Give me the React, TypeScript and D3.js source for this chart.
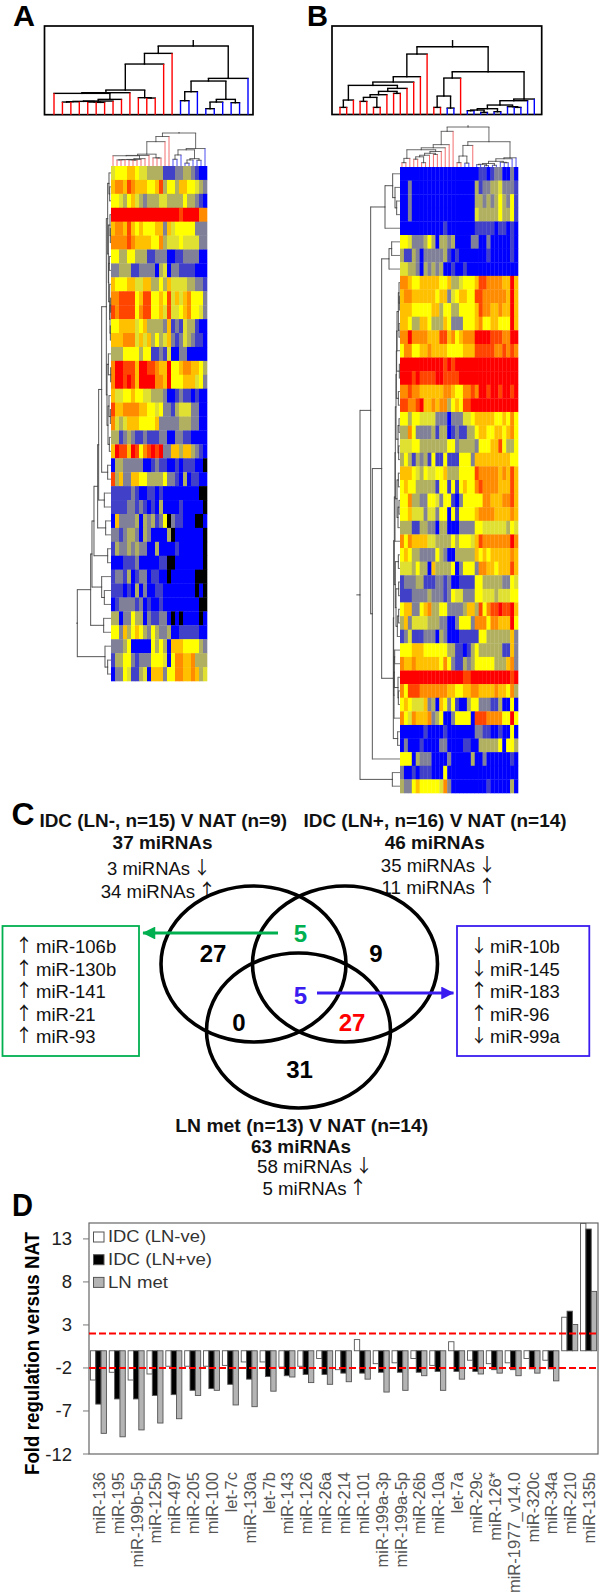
import React from "react";
import * as d3 from "d3";

const FONT = '"Liberation Sans", Arial, sans-serif';

// Heat map levels: 0 blue ... 5 yellow ... 9 red, k = missing (black)
const levelColors = ["#0000ff", "#4040c8", "#808098", "#b0b060", "#e0e030", "#ffff00", "#ffc000", "#ff8c00", "#ff4400", "#ff0000"];

const heatA = [
  "4555 6654 4333 3111 2233 2100",
  "6776 8766 6556 8355 3665 5432",
  "5543 5643 2333 4433 3353 3210",
  "9999 9999 9999 9999 9899 9977",
  "6776 8656 5556 6264 5555 5222",
  "7777 8766 6655 7344 4544 4422",
  "5533 5533 3112 2200 1122 2200",
  "2233 3112 2220 3402 2111 1000",
  "6555 6644 6633 5364 4443 3221",
  "7788 8856 8855 6584 6467 5552",
  "8788 8857 8855 6484 4567 5542",
  "5566 6645 6333 3261 2143 3100",
  "6667 7746 4635 3462 1243 2110",
  "3335 5553 5511 2140 0220 0000",
  "7998 8869 9887 6695 5677 6653",
  "7998 9869 9997 7695 5566 6452",
  "6445 5655 4433 3200 1211 0100",
  "8667 7776 6554 5221 3444 2200",
  "7434 6665 5556 2222 2333 2200",
  "3312 3211 2111 2200 2211 0000",
  "6988 6985 7898 9226 6366 3210",
  "0332 2222 0012 1100 1011 100k",
  "8362 2665 5333 3522 1030 1100",
  "1111 1210 0110 1000 0000 00kk",
  "1111 2212 1010 3000 0100 000k",
  "0622 2230 3231 25k2 1100 0kk0",
  "2212 3320 3200 003k 0000 000k",
  "1322 3232 2003 0000 1000 000k",
  "0001 1120 0000 11kk 0000 000k",
  "1221 3012 2011 00k0 0000 0kkk",
  "1110 1030 2001 1000 0000 0k0k",
  "0122 2212 0100 1000 0000 00kk",
  "3302 2533 0211 220k 0k00 00k0",
  "5526 3565 3253 2230 0111 1100",
  "2223 5000 0053 5306 6655 5532",
  "1335 5212 2255 5405 7766 7333",
  "0225 4113 4066 6255 7766 7634",
];

const heatB = [
  "00000 00000 00000 00000 11012 20020",
  "00200 00000 00000 00003 12233 42221",
  "00200 00000 00000 00003 32323 53251",
  "00200 00000 00000 00004 33333 53351",
  "00000 00000 01000 00001 11110 11010",
  "55422 23530 33230 00022 00200 00010",
  "31132 02222 23101 00000 00100 00010",
  "44332 03232 30010 01000 00000 00000",
  "77655 66666 55633 45556 88777 76696",
  "67766 66665 66245 66558 87777 77696",
  "66655 55566 35533 55556 87766 76696",
  "66533 66533 36522 25556 75566 55596",
  "77977 77666 88675 67779 99988 87799",
  "57755 66766 66555 56668 88887 78787",
  "99999 99999 98989 99999 99999 99999",
  "99989 88889 98888 99999 99999 99999",
  "77877 66666 67765 57787 99899 89989",
  "88778 96676 77356 58899 99999 99999",
  "55355 44442 22022 24456 66665 56575",
  "33752 22231 33012 11335 66556 65675",
  "44455 33333 33552 33332 55566 85335",
  "35313 23151 15111 55526 66666 66655",
  "66654 35445 56333 55558 77777 67686",
  "56553 33331 55151 56557 87777 66686",
  "55733 22554 25510 25555 57766 67786",
  "55644 42442 55051 55556 77776 66676",
  "33311 33220 33000 22225 54444 44354",
  "75766 66443 33353 55546 87777 77797",
  "56533 22225 32003 33336 56566 66676",
  "44435 33063 33350 25552 77665 66686",
  "12223 31112 21200 11115 53333 32254",
  "11122 22322 21254 42225 54443 44455",
  "56622 56733 55222 23663 85788 98896",
  "36244 44333 22002 55527 77577 66695",
  "12411 12220 32000 11111 55333 33362",
  "55566 65555 55331 10135 33333 31162",
  "76676 66666 57521 13235 55553 33672",
  "99999 99999 99999 98899 99999 99989",
  "75888 77777 77665 56677 66667 66573",
  "56544 46230 65251 00355 22211 30050",
  "75476 66723 50025 55508 88777 75595",
  "00000 01000 01000 00002 21100 10050",
  "02000 10000 22000 01100 33333 50553",
  "55503 22200 00200 00030 02000 00010",
  "20010 11100 05000 00000 00000 00000",
  "32256 55555 47200 00000 00100 00030",
];

// Dendrograms: [merge height, left, right]; a number is a leaf index
const colTreeA = [206,
  [184, [152, [74, [66, [64, 0, [46, [41, [40, [39, [38, 1, 2], 3], [38, 4, [37, 5, 6]]], 7], 8]], 9], [51, 10, [50, 11, 12]]], 13], 14],
  [109, [101, [69, [42, 15, 16], 17], [46, [38, [18, 18, 19], 20], [36, 21, 22]]], 23]];
const colTreeB = [204,
  [182, [114, [98, [88, [44, [22, 0, 1], 2], [79, [70, [60, [52, [40, 3, 4], [22, 5, 6]], 7], [64, 8, 9]], 10]], 11], 12], 13],
  [129, [110, [56, [22, 14, 15], [20, 16, 17]], 18],
    [47, [42, [29, [18, [14, [12, 19, 20], [7, 21, 22]], [9, 23, 24]], [24, 25, [22, 26, 27]]], 28], 29]]];
const rowTreeA = [101,
  [61, [57, [51, [40, [37, [28, [14, [10, [6, 0, [4, 1, 2]], [8, [3, 3, [2, 4, 5]], [7, [5, 6, 7], [4, 8, [3, [1, 9, 10], [2, 11, 12]]]]]],
    [12, [8, 13, [1, 14, 15]], [9, [6, 16, [2, 17, 18]], [5, 19, 20]]]], [10, 21, 22]], [20, 23, 24]], [16, 25, 26]], [10, 27, 28]], [28, 29, [20, 30, 31]]], [22, 32, 33]],
  [18, 34, [10, 35, 36]]];
const rowTreeB = [120,
  [88, [45, [22, 0, [15, 1, [10, 2, 3]]], 4],
    [83, [55, [33, [25, 5, 6], 7],
      [20, [19, [17, [15, [14, [12, [11, [10, [9, [5, [3, 8, [2, 9, 10]], [3, 11, 12]], 13], [2, 14, 15]], [5, 16, 17]], [6, [3, 18, 19], [4, 20, 21]]], [9, [5, 22, 23], [6, [3, 24, 25], 26]]], 27],
        [14, [5, 28, 29], [12, [4, 30, 31], [8, [4, 32, 33], 34]]]],
        [18, [17, [16, 35, 36], [6, 37, [5, 38, 39]]], 40]], [7, 41, 42]]], 43]],
  [23, 44, 45]];

const redLeavesA = d3.range(0, 15);
const redLeavesB = [...d3.range(0, 16), 18];

// Panel D
const categories = ["miR-136", "miR-195", "miR-199b-5p", "miR-125b", "miR-497", "miR-205", "miR-100", "let-7c", "miR-130a", "let-7b", "miR-143", "miR-126", "miR-26a", "miR-214", "miR-101", "miR-199a-3p", "miR-199a-5p", "miR-26b", "miR-10a", "let-7a", "miR-29c", "miR-126*", "miR-1977_v14.0", "miR-320c", "miR-34a", "miR-210", "miR-135b"];
const lnNeg = [-3.4, -2.5, -3.4, -2.7, -1.8, -1.8, -1.8, -1.7, -1.3, -1.3, -1.9, -1.8, -0.9, -2.2, 1.3, -1.5, -1.4, -0.9, -1.7, 1.05, -1.1, -1.5, -1.4, -0.9, -1.1, 3.9, 14.8];
const lnPos = [-6.2, -5.6, -5.6, -5.2, -5.1, -4.6, -4.4, -3.9, -3.3, -3, -2.9, -2.75, -2.75, -2.6, -2.6, -2.5, -2.5, -2.5, -2.4, -2.4, -2.4, -2.2, -2.2, -2.1, -2.1, 4.6, 14.15];
const lnMet = [-9.6, -10, -9.2, -8.4, -7.9, -5.2, -4.6, -6.3, -6.5, -4.7, -3.05, -3.7, -3.9, -3.6, -3.3, -4.8, -4.6, -2.9, -4.6, -3.3, -2.7, -2.6, -2.9, -2.6, -3.5, 3.05, 6.9];
const seriesNames = ["IDC (LN-ve)", "IDC (LN+ve)", "LN met"];
const seriesFills = ["#ffffff", "#000000", "#b4b4b4"];
const yTicks = [13, 8, 3, -2, -7, -12];
const thresholds = [2, -2];

// Panel C
const vennCircles = [[253.5, 964, 92.5, 78], [345, 964, 92.5, 78], [298.5, 1030.5, 92, 77.5]];
const vennCounts: [string, number, number, string][] = [
  ["5", 300.4, 942, "#00b050"], ["27", 213, 962, "#000"], ["9", 376, 962, "#000"], ["5", 300.4, 1004, "#3a1cf0"],
  ["0", 239, 1031, "#000"], ["27", 352, 1031, "#f00"], ["31", 299.6, 1078, "#000"],
];
const greenList = ["↑ miR-106b", "↑ miR-130b", "↑ miR-141", "↑ miR-21", "↑ miR-93"];
const blueList = ["↓ miR-10b", "↓ miR-145", "↑ miR-183", "↑ miR-96", "↓ miR-99a"];
const listBaselines = [953, 975.5, 998, 1020.5, 1043];
// text, left, text width, arrow, arrow centre, baseline
const countLines: [string, number, number, string, number, number][] = [
  ["3 miRNAs", 107, 83, "↓", 202, 875],
  ["34 miRNAs", 100.7, 94.3, "↑", 207, 897.5],
  ["35 miRNAs", 380.8, 94.2, "↓", 487, 872],
  ["11 miRNAs", 381.5, 93.5, "↑", 487, 894],
  ["58 miRNAs", 257, 95, "↓", 364, 1173],
  ["5 miRNAs", 262.5, 84, "↑", 358, 1195],
];

type Tree = any;
function layout(tree: Tree) {
  const root: any = d3.hierarchy(tree, (d: any) => (Array.isArray(d) ? d.slice(1) : null));
  root.eachAfter((n: any) => {
    if (n.children) {
      n.pos = d3.mean(n.children, (c: any) => c.pos);
      n.h = n.data[0];
    } else {
      n.pos = n.data;
      n.h = 0;
    }
  });
  return root;
}

function Dendro({ tree, project, leafColor, stroke, width, stem }: any) {
  const root = layout(tree);
  const links: any[] = [];
  root.each((n: any) => {
    if (!n.children) return;
    const [a0, b0] = project(n.pos, n.h);
    n.children.forEach((c: any) => {
      const [a1, b1] = project(c.pos, c.h);
      const [a2, b2] = project(c.pos, n.h);
      links.push(<path key={links.length} d={`M${a0},${b0}L${a2},${b2}`} fill="none" stroke={stroke} strokeWidth={width} strokeLinecap="square" />);
      links.push(<path key={links.length} d={`M${a2},${b2}L${a1},${b1}`} fill="none" stroke={c.children ? stroke : leafColor(c.pos)} strokeWidth={width} />);
    });
  });
  const [s0, s1] = project(root.pos, root.h);
  const [s2, s3] = project(root.pos, root.h + stem);
  return (
    <g>
      {links}
      <path d={`M${s0},${s1}L${s2},${s3}`} stroke={stroke} strokeWidth={width} fill="none" />
    </g>
  );
}

function Heat({ rows, x0, x1, y0, y1 }: any) {
  const cells: string[][] = rows.map((r: string) => r.replace(/ /g, "").split(""));
  const x = d3.scaleBand<number>().domain(d3.range(cells[0].length)).range([x0, x1]);
  const y = d3.scaleBand<number>().domain(d3.range(cells.length)).range([y0, y1]);
  const color = d3.scaleOrdinal<string, string>().domain(["0", "1", "2", "3", "4", "5", "6", "7", "8", "9", "k"]).range([...levelColors, "#000"]);
  return (
    <g filter="url(#soft)">
      {cells.flatMap((r, j) =>
        r.map((v, i) => <rect key={`${i}-${j}`} x={x(i)} y={y(j)} width={x.bandwidth() + 0.3} height={y.bandwidth() + 0.3} fill={color(v)} />),
      )}
    </g>
  );
}

function T({ x, y, w, size = 17.5, bold, anchor, fill = "#111", children }: any) {
  return (
    <text x={x} y={y} fontSize={size} fontWeight={bold ? 700 : 400} textAnchor={anchor} fill={fill} fontFamily={FONT}
      textLength={w} lengthAdjust={w ? "spacingAndGlyphs" : undefined}>
      {children}
    </text>
  );
}

function Arrow({ x, y, children }: any) {
  return (
    <text x={x} y={y - 1} fontSize={18} textAnchor="middle" fill="#111" fontFamily='"Noto Sans CJK SC", "DejaVu Sans", sans-serif'>{children}</text>
  );
}

export default function App() {
  const topA = d3.scalePoint<number>().domain(d3.range(24)).range([54, 248]);
  const topB = d3.scalePoint<number>().domain(d3.range(30)).range([340, 534.3]);
  const boxH = d3.scaleLinear().domain([0, 300]).range([114.7, 14.7]);
  const redA = (p: number) => (redLeavesA.includes(p) ? "#ff0000" : "#0000ff");
  const redB = (p: number) => (redLeavesB.includes(p) ? "#ff0000" : "#0000ff");

  const smallA = d3.scaleBand<number>().domain(d3.range(24)).range([111, 207]);
  const smallB = d3.scaleBand<number>().domain(d3.range(30)).range([400, 518]);
  const smallHA = d3.scaleLinear().domain([0, 206]).range([166, 133]);
  const smallHB = d3.scaleLinear().domain([0, 204]).range([167, 127]);
  const rowA = d3.scaleBand<number>().domain(d3.range(37)).range([166, 681]);
  const rowB = d3.scaleBand<number>().domain(d3.range(46)).range([167, 793]);
  const rowHA = d3.scaleLinear().domain([0, 101]).range([111, 77.3]);
  const rowHB = d3.scaleLinear().domain([0, 120]).range([400, 360]);
  const mid = (s: any) => (p: number) => s(0) + (p + 0.5) * s.step();

  const yD = d3.scaleLinear().domain([-12, 14.85]).range([1454, 1223]);
  const xD = d3.scaleBand<string>().domain(categories).range([89, 598]).paddingInner(0.15).paddingOuter(0.075);
  const xInner = d3.scaleBand<number>().domain([0, 1, 2]).range([0, xD.bandwidth()]);
  const series = [lnNeg, lnPos, lnMet];

  return (
    <svg width={600} height={1596} style={{ position: "absolute", left: 0, top: 0, display: "block", background: "#fff" }}>
      <defs>
        <filter id="soft" x="-5%" y="-5%" width="110%" height="110%">
          <feGaussianBlur stdDeviation="0.5" />
        </filter>
        <marker id="ag" viewBox="0 0 10 10" refX="9.5" refY="5" markerWidth="4.5" markerHeight="4.3" orient="auto">
          <path d="M0,0L10,5L0,10Z" fill="#00b050" />
        </marker>
        <marker id="ab" viewBox="0 0 10 10" refX="9.5" refY="5" markerWidth="4.5" markerHeight="4.3" orient="auto">
          <path d="M0,0L10,5L0,10Z" fill="#3a1cf0" />
        </marker>
      </defs>

      <T x={13} y={26} w={22} size={30} bold fill="#000">A</T>
      <T x={307} y={26} w={21} size={30} bold fill="#000">B</T>
      <T x={11.5} y={825} w={23} size={32} bold fill="#000">C</T>
      <T x={12} y={1216} w={21} size={32} bold fill="#000">D</T>

      {/* Panel A */}
      <rect x={44.5} y={26} width={208.5} height={88.7} fill="#fff" stroke="#000" strokeWidth={1.7} />
      <Dendro tree={colTreeA} project={(p: number, h: number) => [topA(0)! + p * topA.step(), boxH(h)]} leafColor={redA} stroke="#000" width={1.4} stem={18} />
      <Dendro tree={colTreeA} project={(p: number, h: number) => [mid(smallA)(p), smallHA(h)]} leafColor={(p: number) => (redA(p) === "#ff0000" ? "#f04a4a" : "#2222ee")} stroke="#444" width={0.8} stem={6} />
      <Heat rows={heatA} x0={111} x1={207} y0={166} y1={681} />
      <Dendro tree={rowTreeA} project={(p: number, h: number) => [rowHA(h), mid(rowA)(p)]} leafColor={() => "#666"} stroke="#444" width={0.9} stem={3} />

      {/* Panel B */}
      <rect x={332} y={26} width={209.7} height={88.5} fill="#fff" stroke="#000" strokeWidth={1.7} />
      <Dendro tree={colTreeB} project={(p: number, h: number) => [topB(0)! + p * topB.step(), boxH(h)]} leafColor={redB} stroke="#000" width={1.4} stem={20} />
      <Dendro tree={colTreeB} project={(p: number, h: number) => [mid(smallB)(p), smallHB(h)]} leafColor={(p: number) => (redB(p) === "#ff0000" ? "#f04a4a" : "#2222ee")} stroke="#444" width={0.8} stem={10} />
      <Heat rows={heatB} x0={400} x1={518} y0={167} y1={793} />
      <Dendro tree={rowTreeB} project={(p: number, h: number) => [rowHB(h), mid(rowB)(p)]} leafColor={() => "#666"} stroke="#444" width={0.9} stem={11} />

      {/* Panel C */}
      <T x={39.4} y={827} w={247.6} bold>IDC (LN-, n=15) V NAT (n=9)</T>
      <T x={303.5} y={827} w={263} bold>IDC (LN+, n=16) V NAT (n=14)</T>
      <T x={112.6} y={849} w={100} bold>37 miRNAs</T>
      <T x={384.7} y={849} w={100} bold>46 miRNAs</T>
      {countLines.map(([s, x, w, a, ax, y]) => (
        <g key={s}>
          <T x={x} y={y} w={w}>{s}</T>
          <Arrow x={ax} y={y}>{a}</Arrow>
        </g>
      ))}
      {vennCircles.map(([cx, cy, rx, ry], i) => (
        <ellipse key={i} cx={cx} cy={cy} rx={rx} ry={ry} fill="none" stroke="#000" strokeWidth={3.6} />
      ))}
      <rect x={2.5} y={926} width={136.5} height={130} fill="#fff" stroke="#00b050" strokeWidth={1.8} />
      <rect x={457} y={926} width={132.3} height={130} fill="#fff" stroke="#3a1cf0" strokeWidth={1.8} />
      {greenList.map((s, i) => (
        <g key={s}>
          <Arrow x={24} y={listBaselines[i]}>{s.split(" ")[0]}</Arrow>
          <T x={36} y={listBaselines[i]} size={18.5}>{s.split(" ")[1]}</T>
        </g>
      ))}
      {blueList.map((s, i) => (
        <g key={s}>
          <Arrow x={479} y={listBaselines[i]}>{s.split(" ")[0]}</Arrow>
          <T x={490} y={listBaselines[i]} size={18.5}>{s.split(" ")[1]}</T>
        </g>
      ))}
      <line x1={278} y1={933} x2={143} y2={933} stroke="#00b050" strokeWidth={3} markerEnd="url(#ag)" />
      <line x1={317} y1={993} x2={453.5} y2={993} stroke="#3a1cf0" strokeWidth={3} markerEnd="url(#ab)" />
      {vennCounts.map(([s, x, y, c], i) => <T key={i} x={x} y={y} size={24} bold anchor="middle" fill={c}>{s}</T>)}
      <T x={175.3} y={1131.5} w={253} bold>LN  met (n=13) V NAT (n=14)</T>
      <T x={251} y={1153} w={100} bold>63 miRNAs</T>

      {/* Panel D */}
      <rect x={89} y={1223} width={509} height={231} fill="#fff" stroke="#666" strokeWidth={1.2} />
      {yTicks.map((t) => (
        <g key={t}>
          <line x1={83} x2={89} y1={yD(t)} y2={yD(t)} stroke="#777" strokeWidth={1} />
          <T x={72} y={yD(t) + 6.5} size={18.5} anchor="end" fill="#222">{t}</T>
        </g>
      ))}
      <text transform="translate(39,1475) rotate(-90)" fontSize={19.5} fontWeight={700} fontFamily={FONT} fill="#000" textLength={243} lengthAdjust="spacingAndGlyphs">Fold regulation versus NAT</text>
      {categories.map((c, i) => (
        <g key={c}>
          {series.map((vals, s) => (
            <rect key={s} x={xD(c)! + xInner(s)!} y={yD(Math.max(vals[i], 0))} width={xInner.bandwidth()} height={Math.abs(yD(vals[i]) - yD(0))}
              fill={seriesFills[s]} stroke="#555" strokeWidth={0.9} />
          ))}
          <text transform={`translate(${xD(c)! + xD.bandwidth() / 2 + 6.5},1472) rotate(-90)`} fontSize={16.5} textAnchor="end" fill="#555" fontFamily={FONT}>{c}</text>
        </g>
      ))}
      {thresholds.map((t) => (
        <line key={t} x1={89} x2={598} y1={yD(t)} y2={yD(t)} stroke="#ff0000" strokeWidth={2} strokeDasharray="7 3" />
      ))}
      {seriesNames.map((s, i) => (
        <g key={s}>
          <rect x={93.5} y={1232 + i * 22.7} width={10.5} height={10} fill={seriesFills[i]} stroke="#555" strokeWidth={1} />
          <T x={108} y={1242 + i * 23} size={17} fill="#333" w={i === 2 ? 60 : i === 1 ? 104 : 98}>{s}</T>
        </g>
      ))}
    </svg>
  );
}
